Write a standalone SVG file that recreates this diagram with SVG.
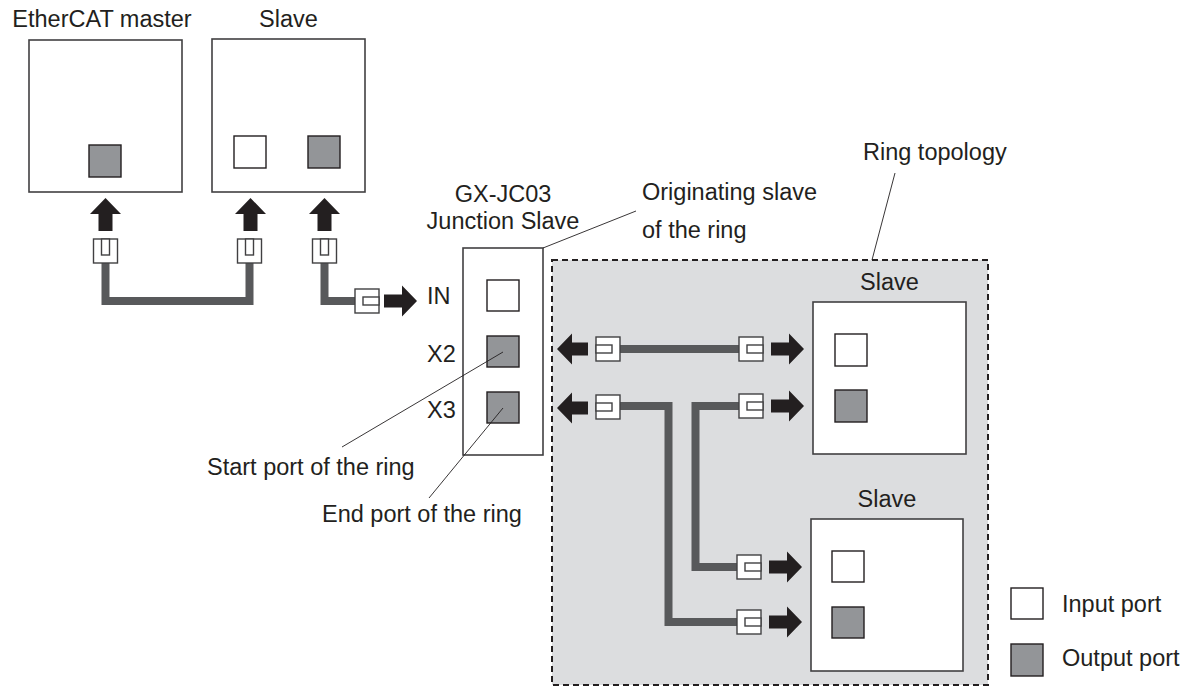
<svg xmlns="http://www.w3.org/2000/svg" width="1195" height="687" viewBox="0 0 1195 687">
<style>
text{font-family:"Liberation Sans",Arial,sans-serif;font-size:23.5px;fill:#231f20}
.mid{text-anchor:middle}
.box{fill:#fff;stroke:#414042;stroke-width:1.6}
.in{fill:#fff;stroke:#231f20;stroke-width:1.4}
.out{fill:#939598;stroke:#231f20;stroke-width:1.4}
.cable{fill:none;stroke:#58595b;stroke-width:8;stroke-linejoin:miter}
.plug{fill:#fff;stroke:#414042;stroke-width:1.4}
.arrow{fill:#231f20}
.lead{stroke:#231f20;stroke-width:0.9;fill:none}
.ring{fill:#dcdddf;stroke:#231f20;stroke-width:2;stroke-dasharray:6 4}
</style>
<defs>
<g id="plugU"><rect class="plug" x="-12" y="0" width="24" height="24"/><rect class="plug" x="-4" y="0" width="8" height="16"/></g>
<g id="plugR"><rect class="plug" x="0" y="-12" width="24" height="24"/><rect class="plug" x="8" y="-4" width="16" height="8"/></g>
<g id="plugL"><rect class="plug" x="0" y="-12" width="24" height="24"/><rect class="plug" x="0" y="-4" width="16" height="8"/></g>
<path id="arrU" class="arrow" d="M0,0 L15.5,16 L7,16 L7,33 L-7,33 L-7,16 L-15.5,16 Z"/>
<path id="arrR" class="arrow" d="M0,-6.5 H18 V-15.5 L33,0 L18,15.5 V6.5 H0 Z"/>
<path id="arrL" class="arrow" d="M0,0 L15,-15.5 V-6.5 H31 V6.5 H15 V15.5 Z"/>
</defs>

<g id="ring-topology">
<rect class="ring" x="552" y="260" width="436" height="425"/>
<text x="863" y="160">Ring topology</text>
</g>

<g id="master">
<text class="mid" x="102" y="27">EtherCAT master</text>
<rect class="box" x="29" y="40" width="153" height="152"/>
<rect class="out" x="89" y="145" width="32" height="32"/>
</g>

<g id="slave1">
<text class="mid" x="288.5" y="27">Slave</text>
<rect class="box" x="212" y="39" width="153" height="153"/>
<rect class="in" x="234" y="136" width="32" height="32"/>
<rect class="out" x="308" y="136" width="32" height="32"/>
</g>

<g id="junction">
<text class="mid" x="503" y="202">GX-JC03</text>
<text class="mid" x="503" y="229">Junction Slave</text>
<rect class="box" x="463" y="248" width="80" height="207"/>
<rect class="in" x="487" y="280" width="32" height="31"/>
<rect class="out" x="487" y="336" width="32" height="31"/>
<rect class="out" x="487" y="392" width="32" height="31"/>
<text x="427" y="304">IN</text>
<text x="427" y="362">X2</text>
<text x="427" y="418">X3</text>
</g>

<g id="slave2">
<text class="mid" x="889.5" y="290">Slave</text>
<rect class="box" x="813" y="302" width="153" height="152"/>
<rect class="in" x="835" y="334" width="32" height="32"/>
<rect class="out" x="835" y="390" width="32" height="32"/>
</g>

<g id="slave3">
<text class="mid" x="887" y="507">Slave</text>
<rect class="box" x="811" y="519" width="152" height="152"/>
<rect class="in" x="832" y="551" width="32" height="31"/>
<rect class="out" x="832" y="607" width="32" height="31"/>
</g>

<g id="legend">
<rect class="in" x="1011" y="588" width="32" height="31"/>
<rect class="out" x="1011" y="644" width="32" height="32"/>
<text x="1062" y="612">Input port</text>
<text x="1062" y="666">Output port</text>
</g>

<g id="annotations">
<line class="lead" x1="543" y1="248" x2="636" y2="211"/>
<text x="642" y="200">Originating slave</text>
<text x="642" y="238">of the ring</text>
<line class="lead" x1="895" y1="173" x2="872" y2="260"/>
<line class="lead" x1="503" y1="352" x2="342" y2="447"/>
<text x="207" y="475">Start port of the ring</text>
<line class="lead" x1="503" y1="408" x2="429" y2="498"/>
<text x="322" y="522">End port of the ring</text>
</g>

<g id="connectors">
<path class="cable" d="M105.5,263 V301 H249.5 V263"/>
<path class="cable" d="M324.5,263 V301 H355"/>
<path class="cable" d="M620,349 H739"/>
<path class="cable" d="M620,406 H668.5 V622 H737"/>
<path class="cable" d="M739,406 H695.5 V567 H737"/>
<use href="#plugU" x="105.5" y="239"/>
<use href="#plugU" x="249.5" y="239"/>
<use href="#plugU" x="324.5" y="239"/>
<use href="#arrU" x="105.5" y="198"/>
<use href="#arrU" x="250.5" y="198"/>
<use href="#arrU" x="324.5" y="198"/>
<use href="#plugR" x="355" y="301"/>
<use href="#arrR" x="384" y="301"/>
<use href="#plugL" x="596" y="349"/>
<use href="#arrL" x="557" y="349"/>
<use href="#plugL" x="596" y="407"/>
<use href="#arrL" x="557" y="408"/>
<use href="#plugR" x="739" y="349"/>
<use href="#arrR" x="771" y="349"/>
<use href="#plugR" x="739" y="406"/>
<use href="#arrR" x="771" y="406"/>
<use href="#plugR" x="737" y="567"/>
<use href="#arrR" x="769" y="567"/>
<use href="#plugR" x="737" y="622"/>
<use href="#arrR" x="769" y="622"/>
</g>
</svg>
